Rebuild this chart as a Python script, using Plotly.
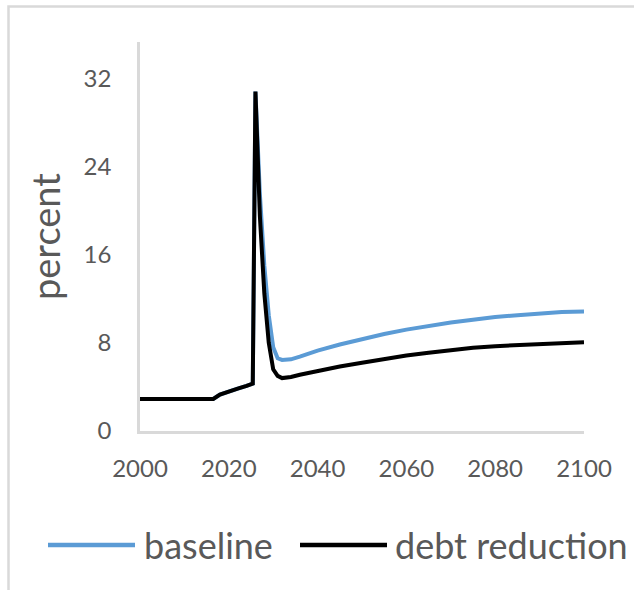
import plotly.graph_objects as go

# ---- data ----
years = [2000, 2005, 2010, 2015, 2016.5, 2018, 2020, 2022, 2024, 2025.4, 2026,
         2027, 2028, 2029, 2030, 2031, 2032, 2034, 2036, 2040, 2045, 2050,
         2055, 2060, 2065, 2070, 2075, 2080, 2085, 2090, 2095, 2100]

baseline = [2.9, 2.9, 2.9, 2.9, 2.9, 3.3, 3.6, 3.85, 4.1, 4.3, 30.8,
            21.5, 15.0, 10.5, 7.6, 6.6, 6.45, 6.5, 6.75, 7.3, 7.85, 8.35,
            8.8, 9.2, 9.55, 9.85, 10.1, 10.35, 10.5, 10.65, 10.8, 10.85]

debt_reduction = [2.9, 2.9, 2.9, 2.9, 2.9, 3.3, 3.6, 3.85, 4.1, 4.3, 30.8,
                  19.5, 12.5, 8.0, 5.6, 5.0, 4.8, 4.9, 5.1, 5.45, 5.85, 6.2,
                  6.55, 6.85, 7.1, 7.35, 7.55, 7.7, 7.8, 7.9, 8.0, 8.05]

series_names = ["baseline", "debt reduction"]
x_ticks = [2000, 2020, 2040, 2060, 2080, 2100]
y_ticks = [0, 8, 16, 24, 32]

BLUE = "#5B9BD5"
BLACK = "#000000"
GRAY_TXT = "#595959"
GRAY_LINE = "#D9D9D9"
FONT = "Lato, 'Noto Sans', sans-serif"

W, H = 634, 590
ML, MR, MT, MB = 140, 50, 42, 159
PW, PH = W - ML - MR, H - MT - MB


def px(xp):
    return (xp - ML) / PW


def py(yp):
    return (H - MB - yp) / PH


fig = go.Figure()
fig.add_trace(go.Scatter(x=years, y=baseline, mode="lines", name=series_names[0],
                         line=dict(color=BLUE, width=4), showlegend=False))
fig.add_trace(go.Scatter(x=years, y=debt_reduction, mode="lines", name=series_names[1],
                         line=dict(color=BLACK, width=4), showlegend=False))

fig.update_layout(
    width=W, height=H,
    margin=dict(l=ML, r=MR, t=MT, b=MB, autoexpand=False),
    paper_bgcolor="white", plot_bgcolor="white",
    font=dict(family=FONT, color=GRAY_TXT),
    xaxis=dict(range=[2000, 2100], tickvals=x_ticks, ticktext=[str(v) for v in x_ticks],
               showgrid=False, zeroline=False, showline=True, linecolor=GRAY_LINE,
               linewidth=2.5, ticks="", tickfont=dict(size=24, color=GRAY_TXT, family=FONT),
               ticklabelstandoff=14, automargin=False),
    yaxis=dict(range=[0, 35.3], tickvals=y_ticks, ticktext=[str(v) for v in y_ticks],
               showgrid=False, zeroline=False, showline=True, linecolor=GRAY_LINE,
               linewidth=2.5, ticks="", tickfont=dict(size=24, color=GRAY_TXT, family=FONT),
               ticklabelstandoff=21, automargin=False),
    showlegend=False,
)

shapes = [
    # chart-area frame (top and left edges visible)
    dict(type="rect", xref="paper", yref="paper", x0=px(8.5), x1=px(660),
         y0=py(640), y1=py(6.5), line=dict(color=GRAY_LINE, width=2.5),
         fillcolor="rgba(0,0,0,0)", layer="below"),
    # legend samples
    dict(type="line", xref="paper", yref="paper", x0=px(48), x1=px(135),
         y0=py(545), y1=py(545), line=dict(color=BLUE, width=4.5)),
    dict(type="line", xref="paper", yref="paper", x0=px(300), x1=px(387),
         y0=py(545), y1=py(545), line=dict(color=BLACK, width=4.5)),
]

annotations = [
    dict(text="percent", xref="paper", yref="paper", x=px(45), y=py(237),
         textangle=-90, showarrow=False, xanchor="center", yanchor="middle",
         font=dict(size=38, color=GRAY_TXT, family=FONT)),
    dict(text=series_names[0], xref="paper", yref="paper", x=px(142), y=py(545),
         showarrow=False, xanchor="left", yanchor="middle",
         font=dict(size=36, color=GRAY_TXT, family=FONT)),
    dict(text=series_names[1], xref="paper", yref="paper", x=px(393), y=py(545),
         showarrow=False, xanchor="left", yanchor="middle",
         font=dict(size=36, color=GRAY_TXT, family=FONT)),
]

fig.update_layout(shapes=shapes, annotations=annotations)
fig.write_html("out.html", config={"displayModeBar": False},
               post_script="document.body.style.margin='0';document.body.style.overflow='hidden';")
